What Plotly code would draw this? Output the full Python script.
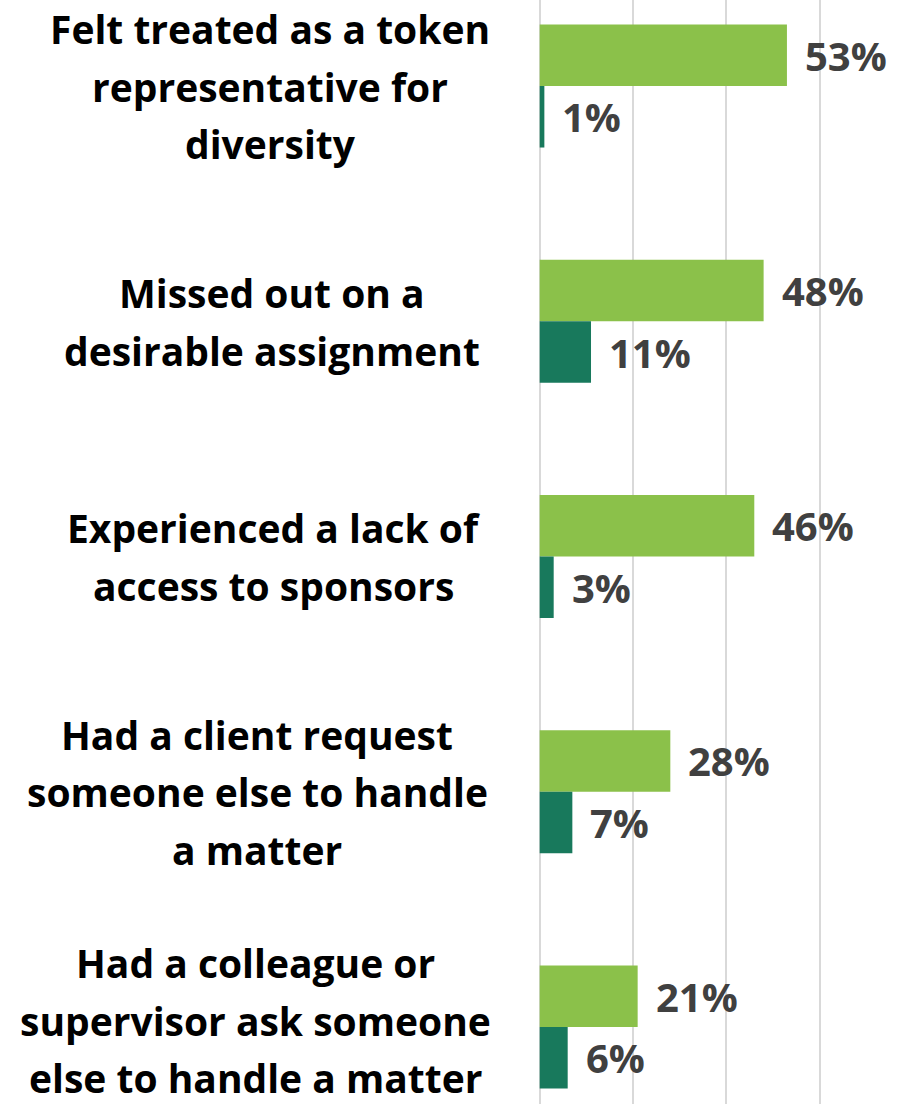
import plotly.graph_objects as go

# Survey items (line breaks as they appear in the labels)
categories = [
    "Felt treated as a token<br>representative for<br>diversity",
    "Missed out on a<br>desirable assignment",
    "Experienced a lack of<br>access to sponsors",
    "Had a client request<br>someone else to handle<br>a matter",
    "Had a colleague or<br>supervisor ask someone<br>else to handle a matter",
]
series_a = [53, 48, 46, 28, 21]   # light green bars
series_b = [1, 11, 3, 7, 6]       # dark green bars

LIGHT = "#8BC14A"
DARK = "#18795C"
LABEL_GREY = "#404040"
FONT = "Open Sans"

W, H = 902, 1104
plot_left = 539
px_per_unit = 4.665
cat_step = 235.25
first_center = 86

# horizontal centre of each category's label block (px) and a small vertical nudge
label_centers = [270, 272, 273, 257, 255]
label_nudge = [0, 0, 0, 0, 7]

y_idx = list(range(len(categories)))

fig = go.Figure()
fig.add_trace(go.Bar(y=y_idx, x=series_a, orientation="h",
                     marker=dict(color=LIGHT, line=dict(width=0)),
                     hoverinfo="x"))
fig.add_trace(go.Bar(y=y_idx, x=series_b, orientation="h",
                     marker=dict(color=DARK, line=dict(width=0)),
                     hoverinfo="x"))

annotations = []
half_bar = cat_step * (1 - 0.477) / 4
for i, (a, b) in enumerate(zip(series_a, series_b)):
    for val, shift in ((a, half_bar), (b, -half_bar)):
        annotations.append(dict(
            x=val, y=i, xref="x", yref="y", text=f"{val}%",
            showarrow=False, xanchor="left", yanchor="middle",
            xshift=16, yshift=shift,
            font=dict(family=FONT, size=40, color=LABEL_GREY, weight="bold"),
        ))

line_gap = 57.5
for i, label in enumerate(categories):
    lines = label.split("<br>")
    n = len(lines)
    for j, line in enumerate(lines):
        annotations.append(dict(
            x=label_centers[i] / W, y=i, xref="paper", yref="y",
            text=line, showarrow=False, xanchor="center", yanchor="middle",
            yshift=-(j - (n - 1) / 2) * line_gap + label_nudge[i],
            borderpad=0,
            font=dict(family=FONT, size=39, color="#000000", weight="bold"),
        ))

y_top = -first_center / cat_step
y_bottom = y_top + H / cat_step
x_max = (W - plot_left) / px_per_unit

fig.update_layout(
    width=W, height=H,
    margin=dict(l=0, r=0, t=0, b=0),
    paper_bgcolor="white", plot_bgcolor="white",
    barmode="group", bargap=0.477, bargroupgap=0,
    showlegend=False,
    annotations=annotations,
    xaxis=dict(domain=[plot_left / W, 1], range=[-0.15, x_max - 0.15],
               dtick=20, tick0=0, showgrid=True, gridcolor="#D9D9D9",
               gridwidth=2, zeroline=True, zerolinecolor="#D9D9D9",
               zerolinewidth=2, showticklabels=False, showline=False),
    yaxis=dict(range=[y_bottom, y_top], showticklabels=False,
               showgrid=False, zeroline=False, showline=False),
)

fig.write_html("out.html")
